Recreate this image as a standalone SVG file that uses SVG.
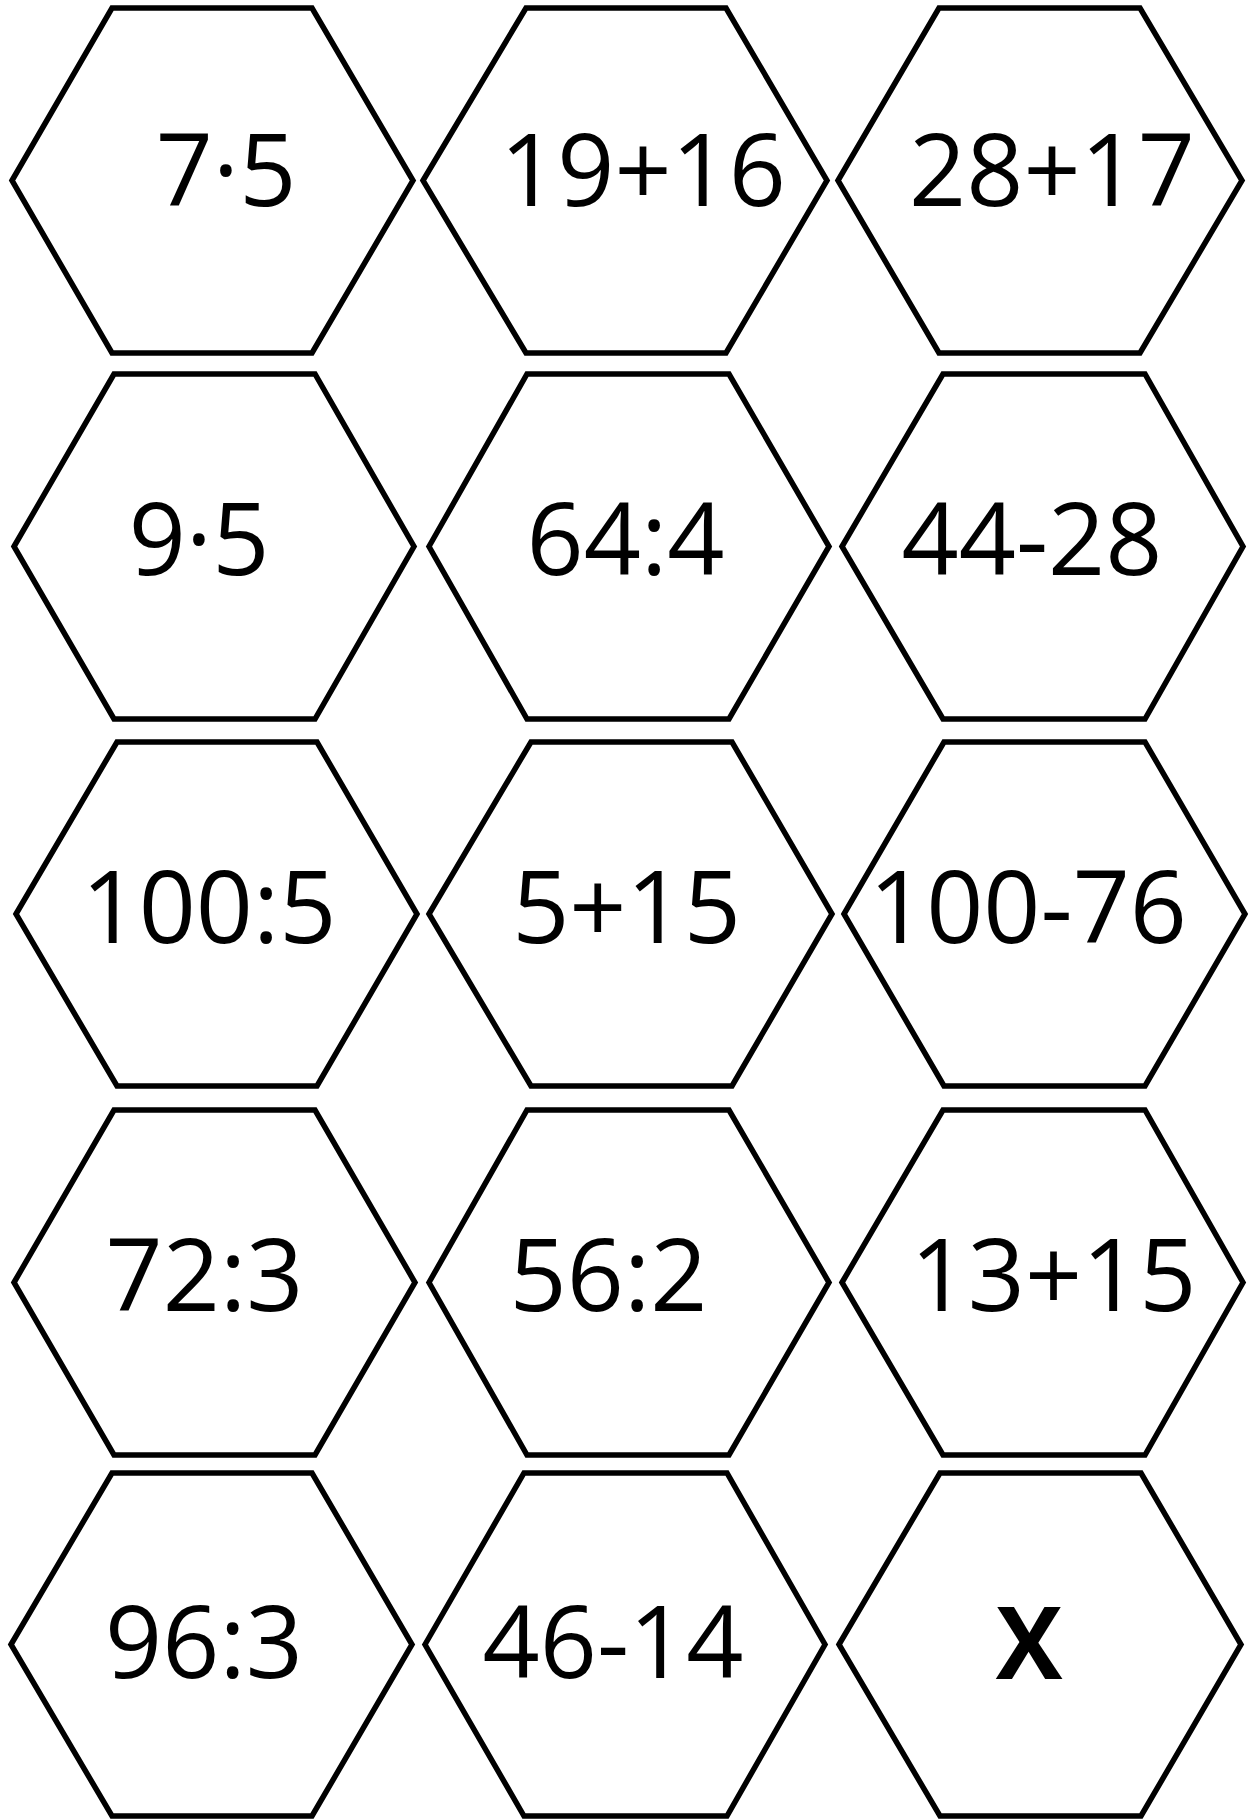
<svg xmlns="http://www.w3.org/2000/svg" width="1249" height="1820" viewBox="0 0 1249 1820">
<style>
.hex{fill:#ffffff;stroke:#000000;stroke-width:5.5;stroke-linejoin:miter}
.lbl{font-family:"Open Sans","Noto Sans","Liberation Sans",sans-serif;font-size:100px;fill:#000000;text-anchor:middle}
.bold{font-weight:bold}
</style>
<rect x="0" y="0" width="1249" height="1820" fill="#ffffff"/>
<g id="connectors"></g>
<g id="r1c1"><polygon class="hex" points="12,180.5 112,8 312,8 413,180.5 312,353 112,353"/><text class="lbl" x="226" y="206">7·5</text></g>
<g id="r1c2"><polygon class="hex" points="423,180.5 526,8 726,8 827,180.5 726,353 526,353"/><text class="lbl" x="643" y="206">19+16</text></g>
<g id="r1c3"><polygon class="hex" points="838,180.5 939,8 1140,8 1242,180.5 1140,353 939,353"/><text class="lbl" x="1052" y="206">28+17</text></g>
<g id="r2c1"><polygon class="hex" points="14,546.5 114,374 315,374 414,546.5 315,719 114,719"/><text class="lbl" x="199" y="575">9·5</text></g>
<g id="r2c2"><polygon class="hex" points="429,546.5 527,374 729,374 829,546.5 729,719 527,719"/><text class="lbl" x="625.5" y="575">64:4</text></g>
<g id="r2c3"><polygon class="hex" points="842,546.5 943,374 1145,374 1243,546.5 1145,719 943,719"/><text class="lbl" x="1032" y="575">44-28</text></g>
<g id="r3c1"><polygon class="hex" points="16,914 117,742 317,742 417,914 317,1086 117,1086"/><text class="lbl" x="209" y="943">100:5</text></g>
<g id="r3c2"><polygon class="hex" points="429,914 531,742 732,742 832,914 732,1086 531,1086"/><text class="lbl" x="626.5" y="943">5+15</text></g>
<g id="r3c3"><polygon class="hex" points="844,914 944,742 1145,742 1245,914 1145,1086 944,1086"/><text class="lbl" x="1028" y="943">100-76</text></g>
<g id="r4c1"><polygon class="hex" points="14,1282.5 114,1110 315,1110 415,1282.5 315,1455 114,1455"/><text class="lbl" x="204.5" y="1311">72:3</text></g>
<g id="r4c2"><polygon class="hex" points="429,1282.5 527,1110 729,1110 829,1282.5 729,1455 527,1455"/><text class="lbl" x="608.5" y="1311">56:2</text></g>
<g id="r4c3"><polygon class="hex" points="842,1282.5 943,1110 1145,1110 1243,1282.5 1145,1455 943,1455"/><text class="lbl" x="1053.5" y="1311">13+15</text></g>
<g id="r5c1"><polygon class="hex" points="11,1644.5 112,1473 312,1473 412,1644.5 312,1816 112,1816"/><text class="lbl" x="204" y="1678">96:3</text></g>
<g id="r5c2"><polygon class="hex" points="425,1644.5 524,1473 727,1473 825,1644.5 727,1816 524,1816"/><text class="lbl" x="613" y="1678">46-14</text></g>
<g id="r5c3"><polygon class="hex" points="839,1644.5 940,1473 1141,1473 1241,1644.5 1141,1816 940,1816"/><text class="lbl bold" x="1029" y="1679">X</text></g>
</svg>
